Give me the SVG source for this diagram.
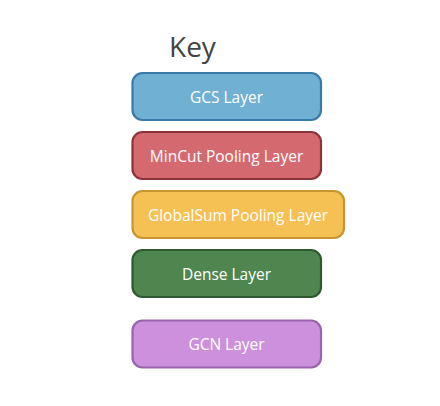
<svg xmlns="http://www.w3.org/2000/svg" width="440" height="406" viewBox="0 0 440 406">
<style>
.box{stroke-width:2.2}
.lbl{font-family:"Open Sans","Noto Sans",sans-serif;font-size:15.5px;fill:#ffffff;text-anchor:middle;dominant-baseline:central}
.key{font-family:"Open Sans","Noto Sans",sans-serif;font-size:28px;fill:#444444}
</style>
<rect width="440" height="406" fill="#ffffff"/>
<text class="key" x="169" y="57">Key</text>
<g id="gcs"><rect class="box" x="132.5" y="73" width="188.5" height="47" rx="10" fill="#70b0d2" stroke="#3a7aa6"/><text class="lbl" x="226.5" y="96.5">GCS Layer</text></g>
<g id="mincut"><rect class="box" x="132.5" y="132" width="188.5" height="47" rx="10" fill="#d46a6f" stroke="#8c333a"/><text class="lbl" x="226.5" y="155.5">MinCut Pooling Layer</text></g>
<g id="globalsum"><rect class="box" x="132.5" y="191" width="211.5" height="47" rx="10" fill="#f5c054" stroke="#c8942f"/><text class="lbl" x="238" y="214.5">GlobalSum Pooling Layer</text></g>
<g id="dense"><rect class="box" x="132.5" y="250" width="188.5" height="47" rx="10" fill="#4f8650" stroke="#2d5a2f"/><text class="lbl" x="226.5" y="273.5">Dense Layer</text></g>
<g id="gcn"><rect class="box" x="132.5" y="320.5" width="188.5" height="47" rx="10" fill="#cd90dd" stroke="#9a63ab"/><text class="lbl" x="226.5" y="344">GCN Layer</text></g>
<g id="connectors"></g>
</svg>
